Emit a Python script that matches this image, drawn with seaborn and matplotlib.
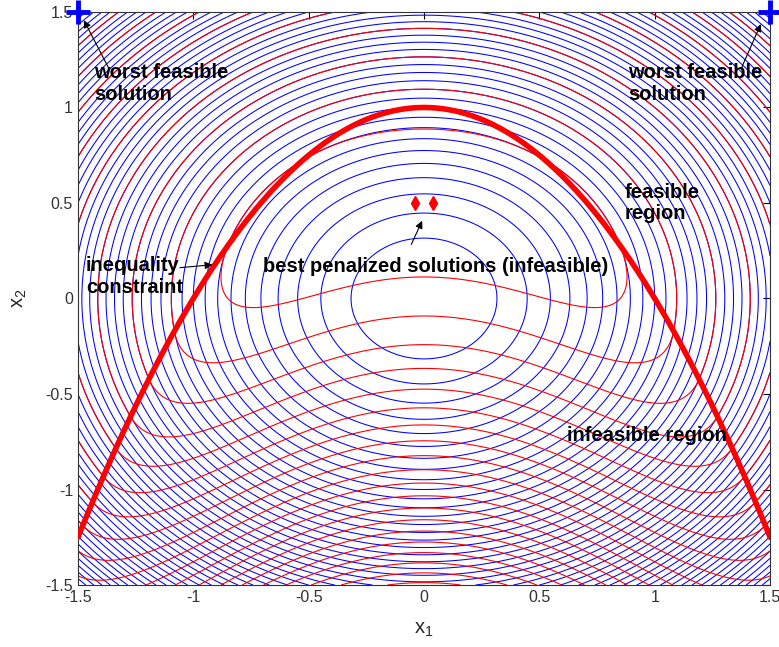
import numpy as np
import matplotlib
matplotlib.use("Agg")
import matplotlib.pyplot as plt
import seaborn as sns

# problem: minimise f = x1^2 + x2^2  s.t.  g = 1 - x1^2 - x2 <= 0
# penalised function p = f + r * max(0, g)^2
r_penalty = 1.0
x_range = [-1.5, 1.5]
f_levels = np.round(np.arange(1, 46) * 0.1, 2)      # blue contours (objective)
p_levels = np.round(np.arange(1, 22) * 0.4, 2)      # red contours (penalised)

worst_x = [-1.5, 1.5]
worst_y = [1.5, 1.5]
best_x = [-0.04, 0.04]
best_y = [0.5, 0.5]

ticks = [-1.5, -1, -0.5, 0, 0.5, 1, 1.5]
tick_labels = ['-1.5', '-1', '-0.5', '0', '0.5', '1', '1.5']

sns.set_style('white')
plt.rcParams['font.family'] = ['Liberation Sans', 'DejaVu Sans']
plt.rcParams['mathtext.fontset'] = 'custom'
plt.rcParams['mathtext.rm'] = 'Liberation Sans'
plt.rcParams['mathtext.it'] = 'Liberation Sans:italic'

g1 = np.linspace(x_range[0], x_range[1], 301)
X1, X2 = np.meshgrid(g1, g1)
F = X1**2 + X2**2
G = 1 - X1**2 - X2
P = F + r_penalty * np.maximum(0, G)**2

fig = plt.figure(figsize=(7.79, 6.47), dpi=100)
ax = fig.add_axes([0.1001, 0.0958, 0.8884, 0.8857])

ax.contour(X1, X2, F, levels=f_levels, colors='#0000ff', linewidths=0.75)
ax.contour(X1, X2, P, levels=p_levels, colors='#ff0000', linewidths=0.8)

# constraint boundary
sns.lineplot(x=g1, y=1 - g1**2, color='#ff0000', linewidth=4, ax=ax, zorder=5)

ax.plot(worst_x, worst_y, '+', color='#0000ff', ms=17, mew=3.5, clip_on=False, zorder=6)
ax.plot(best_x, best_y, 'd', color='#ff0000', ms=7, zorder=6)

bold = dict(fontsize=14.5, fontweight='bold', color='k', zorder=7)
arrow = dict(arrowstyle='-|>', color='k', lw=0.8, mutation_scale=11)

ax.text(-1.43, 1.125, 'worst feasible\nsolution', ha='left', va='center', linespacing=1.15, **bold)
ax.annotate('', xy=(-1.48, 1.47), xytext=(-1.36, 1.19), arrowprops=arrow, zorder=7)

ax.text(0.885, 1.125, 'worst feasible\nsolution', ha='left', va='center', linespacing=1.15, **bold)
ax.annotate('', xy=(1.465, 1.45), xytext=(1.37, 1.19), arrowprops=arrow, zorder=7)

ax.text(0.87, 0.5, 'feasible\nregion', ha='left', va='center', linespacing=1.15, **bold)

ax.text(-0.70, 0.17, 'best penalized solutions (infeasible)', ha='left', va='center', **bold)
ax.annotate('', xy=(-0.003, 0.42), xytext=(-0.06, 0.27), arrowprops=arrow, zorder=7)

ax.text(-1.465, 0.115, 'inequality\nconstraint', ha='left', va='center', linespacing=1.15, **bold)
ax.annotate('', xy=(-0.905, 0.178), xytext=(-1.07, 0.16), arrowprops=arrow, zorder=7)

ax.text(0.62, -0.715, 'infeasible region', ha='left', va='center', **bold)

ax.set_xlim(x_range)
ax.set_ylim(x_range)
ax.set_xticks(ticks)
ax.set_xticklabels(tick_labels)
ax.set_yticks(ticks)
ax.set_yticklabels(tick_labels)
ax.tick_params(direction='in', length=5, width=0.8, top=True, right=True,
               labelsize=11.5, colors='k', labelcolor='#333333')
for s in ax.spines.values():
    s.set_color('#333333')
    s.set_linewidth(0.8)
ax.set_xlabel('x$_1$', fontsize=14.5, labelpad=11)
ax.set_ylabel('x$_2$', fontsize=14.5, labelpad=12)

fig.savefig('out.png', dpi=100)
